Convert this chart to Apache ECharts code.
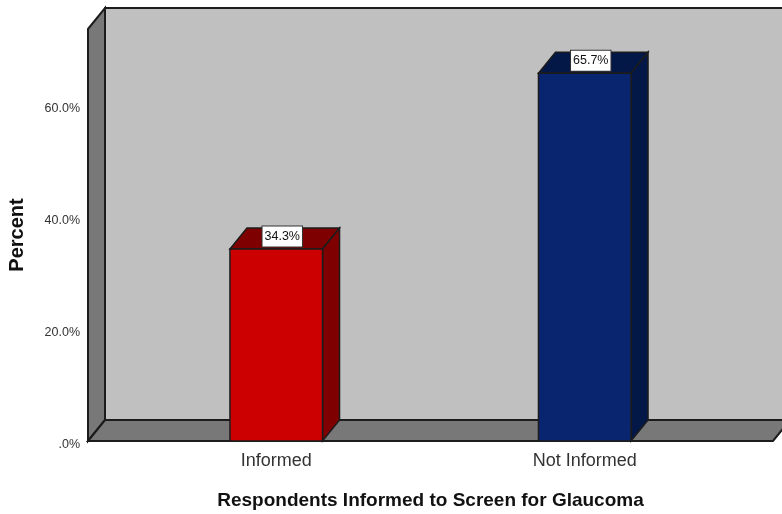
<!DOCTYPE html>
<html>
<head>
<meta charset="utf-8">
<style>html,body{margin:0;padding:0;background:#fff}#chart{width:782px;height:514px}</style>
<script src="https://cdn.jsdelivr.net/npm/echarts@6/dist/echarts.min.js"></script>
</head>
<body>
<div id="chart"></div>
<script>
// Share of respondents told to get screened for glaucoma
const categories = ['Informed', 'Not Informed'];
const percentValues = [34.3, 65.7];
const frontColors = ['#CC0000', '#0A2570'];
const shadeColors = ['#7F0000', '#041848'];
const axisMax = 73.6;
const tickStep = 20;

// Oblique offset of the 3D box, in pixels
const DEPTH_X = 17;
const DEPTH_Y = -21;
const WALL_OVERHANG = 34;
const EDGE = '#1c1c1c';

function poly(points, fill, lineWidth) {
  return { type: 'polygon', shape: { points }, style: { fill, stroke: EDGE, lineWidth: lineWidth || 1.5, lineJoin: 'miter' } };
}

// Back wall, left wall and floor of the chart box
function renderWalls(params) {
  const c = params.coordSys;
  const l = c.x - WALL_OVERHANG, r = c.x + c.width + WALL_OVERHANG;
  const t = c.y, b = c.y + c.height;
  const dx = DEPTH_X, dy = DEPTH_Y;
  return {
    type: 'group',
    children: [
      poly([[l + dx, t + dy], [r + dx, t + dy], [r + dx, b + dy], [l + dx, b + dy]], '#C0C0C0', 2),
      poly([[l, t], [l + dx, t + dy], [l + dx, b + dy], [l, b]], '#787878', 2),
      poly([[l, b], [l + dx, b + dy], [r + dx, b + dy], [r, b]], '#787878', 2)
    ]
  };
}

// One extruded bar with its value tag
function renderBar(params, api) {
  const i = params.dataIndex;
  const base = api.coord([api.value(0), 0]);
  const top = api.coord([api.value(0), api.value(1)]);
  const w = api.size([1, 0])[0] * 0.3;
  const x0 = base[0] - w / 2, x1 = base[0] + w / 2;
  const yT = top[1], yB = base[1];
  const dx = DEPTH_X, dy = DEPTH_Y;
  return {
    type: 'group',
    children: [
      poly([[x0, yT], [x0 + dx, yT + dy], [x1 + dx, yT + dy], [x1, yT]], shadeColors[i]),
      poly([[x1, yT], [x1 + dx, yT + dy], [x1 + dx, yB + dy], [x1, yB]], shadeColors[i]),
      poly([[x0, yT], [x1, yT], [x1, yB], [x0, yB]], frontColors[i]),
      {
        type: 'text',
        x: base[0] + 6,
        y: yT - 12.5,
        style: {
          text: api.value(1).toFixed(1) + '%',
          fontFamily: '"Liberation Sans", Arial, sans-serif',
          fontSize: 12.5,
          fill: '#111',
          align: 'center',
          verticalAlign: 'middle',
          backgroundColor: '#fff',
          borderColor: '#333',
          borderWidth: 1,
          padding: [4, 2, 3, 2]
        },
        z2: 10
      }
    ]
  };
}

const chart = echarts.init(document.getElementById('chart'), null, { renderer: 'canvas' });
chart.setOption({
  animation: false,
  backgroundColor: '#fff',
  grid: { left: 122, right: 43, top: 29, bottom: 73, outerBoundsMode: 'none' },
  xAxis: {
    type: 'category',
    data: categories,
    name: 'Respondents Informed to Screen for Glaucoma',
    nameLocation: 'middle',
    nameGap: 50,
    nameTextStyle: { fontFamily: '"Liberation Sans", Arial, sans-serif', fontWeight: 'bold', fontSize: 19, color: '#111' },
    axisLine: { show: false },
    axisTick: { show: false },
    axisLabel: { margin: 11, fontFamily: '"Liberation Sans", Arial, sans-serif', fontSize: 18, color: '#333' }
  },
  yAxis: {
    type: 'value',
    min: 0,
    max: axisMax,
    interval: tickStep,
    name: 'Percent',
    nameLocation: 'middle',
    nameGap: 95,
    nameTextStyle: { fontFamily: '"Liberation Sans", Arial, sans-serif', fontWeight: 'bold', fontSize: 20, color: '#111' },
    axisLine: { show: false },
    axisTick: { show: false },
    splitLine: { show: false },
    axisLabel: {
      showMaxLabel: false,
      margin: 42,
      fontFamily: '"Liberation Sans", Arial, sans-serif',
      fontSize: 12.5,
      color: '#333',
      // tick text sits a few pixels below its gridline position
      verticalAlign: 'top',
      lineHeight: 7,
      formatter: v => (v === 0 ? '.0%' : v.toFixed(1) + '%')
    }
  },
  series: [
    { type: 'custom', silent: true, z: 1, renderItem: renderWalls, data: [[0, 0]], clip: false },
    { type: 'custom', silent: true, z: 2, renderItem: renderBar, clip: false,
      encode: { x: 0, y: 1 },
      data: percentValues.map((v, i) => [i, v]) }
  ]
});
</script>
</body>
</html>
